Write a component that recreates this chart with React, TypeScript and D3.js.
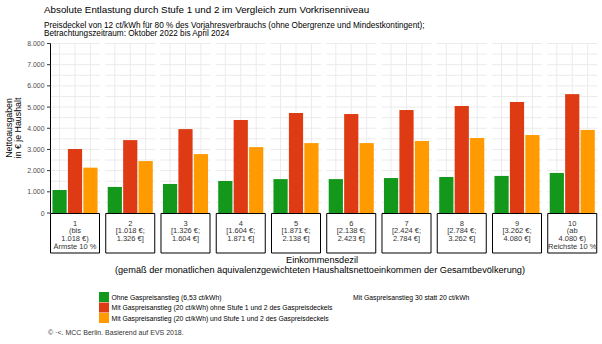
import React from "react";
import * as d3 from "d3";

const deciles = ["1", "2", "3", "4", "5", "6", "7", "8", "9", "10"];
const stripLabels: string[][] = [
  ["1", "(bis", "1.018 €)", "Ärmste 10 %"],
  ["2", "[1.018 €;", "1.326 €]"],
  ["3", "[1.326 €;", "1.604 €]"],
  ["4", "[1.604 €;", "1.871 €]"],
  ["5", "[1.871 €;", "2.138 €]"],
  ["6", "[2.138 €;", "2.423 €]"],
  ["7", "[2.424 €;", "2.784 €]"],
  ["8", "[2.784 €;", "3.262 €]"],
  ["9", "[3.262 €;", "4.080 €]"],
  ["10", "(ab", "4.080 €)", "Reichste 10 %"],
];
const seriesKeys = ["ohne", "mitOhne", "mitMit"];
const seriesNames = [
  "Ohne Gaspreisanstieg (6,53 ct/kWh)",
  "Mit Gaspreisanstieg (20 ct/kWh) ohne Stufe 1 und 2 des Gaspreisdeckels",
  "Mit Gaspreisanstieg (20 ct/kWh) und Stufe 1 und 2 des Gaspreisdeckels",
];
const seriesColors = ["#14981C", "#DE3A13", "#FF9B00"];
const ohneValues = [1085, 1230, 1370, 1510, 1600, 1600, 1650, 1700, 1750, 1890];
const mitOhneValues = [3020, 3440, 3960, 4390, 4720, 4670, 4860, 5050, 5240, 5610];
const mitMitValues = [2140, 2450, 2780, 3110, 3300, 3300, 3400, 3540, 3680, 3920];
const yTicks = [0, 1000, 2000, 3000, 4000, 5000, 6000, 7000, 8000];
const yGrid = d3.range(0, 8001, 500);
const extraLegend = "Mit Gaspreisanstieg 30 statt 20 ct/kWh";

const FONT = "'Liberation Sans', Arial, sans-serif";

export default function App() {
  const W = 602, H = 344;
  const y0 = 213, yTop = 43.5, stripBottom = 253;
  const y = d3.scaleLinear().domain([0, 8000]).range([y0, yTop]);
  const px = d3.scaleBand<string>().domain(deciles).range([50, 597.25]).paddingInner(0.095).paddingOuter(0);
  const bx = d3.scaleBand<string>().domain(seriesKeys).range([0, px.bandwidth()]).paddingInner(0.08).paddingOuter(0.16);
  const allValues = [ohneValues, mitOhneValues, mitMitValues];
  const fmt = (v: number) => d3.format(",")(v).replace(/,/g, ".");
  const pw = px.bandwidth();

  return (
    <svg width={W} height={H} style={{ position: "absolute", left: 0, top: 0, background: "#fff" }} fontFamily={FONT}>
      <text x={44} y={12.5} fontSize={9.8} fill="#000">Absolute Entlastung durch Stufe 1 und 2 im Vergleich zum Vorkrisenniveau</text>
      <text x={44} y={27.5} fontSize={8.2} fill="#000">Preisdeckel von 12 ct/kWh für 80 % des Vorjahresverbrauchs (ohne Obergrenze und Mindestkontingent);</text>
      <text x={44} y={36} fontSize={8.2} fill="#000">Betrachtungszeitraum: Oktober 2022 bis April 2024</text>

      {deciles.map((d, i) => {
        const x0 = px(d)!;
        return (
          <g key={d} transform={`translate(${x0},0)`}>
            {yGrid.map((t) => (
              <line key={t} x1={0} x2={pw} y1={y(t)} y2={y(t)} stroke="#EBEBEB" strokeWidth={1} />
            ))}
            {seriesKeys.map((k) => (
              <line key={k} x1={bx(k)! + bx.bandwidth() / 2} x2={bx(k)! + bx.bandwidth() / 2} y1={yTop} y2={y0} stroke="#EBEBEB" strokeWidth={1} />
            ))}
            {seriesKeys.map((k, si) => (
              <rect key={k} x={bx(k)!} width={bx.bandwidth()} y={y(allValues[si][i])} height={y0 - y(allValues[si][i])} fill={seriesColors[si]} />
            ))}
            <path d={`M0.5,${y0 + 0.5} V${stripBottom} H${pw - 0.5} V${y0 + 0.5} Z`} fill="none" stroke="#000" strokeWidth={1} />
            {stripLabels[i].map((s, li) => (
              <text key={li} x={pw / 2} y={225.5 + li * 7.8} fontSize={7.5} textAnchor="middle" fill="#333">{s}</text>
            ))}
          </g>
        );
      })}

      <line x1={50.5} x2={50.5} y1={yTop} y2={y0 + 0.5} stroke="#000" strokeWidth={1} />
      {yTicks.map((t) => (
        <g key={t}>
          <line x1={47} x2={50.5} y1={y(t)} y2={y(t)} stroke="#333" strokeWidth={1} />
          <text x={44.5} y={y(t) + 2.5} fontSize={6.9} textAnchor="end" fill="#4D4D4D">{fmt(t)}</text>
        </g>
      ))}

      <g transform={`translate(13,128) rotate(-90)`}>
        <text x={0} y={-1} fontSize={8.8} textAnchor="middle" fill="#000">Nettoausgaben</text>
        <text x={0} y={8} fontSize={8.8} textAnchor="middle" fill="#000">in € je Haushalt</text>
      </g>

      <text x={322} y={263} fontSize={9.2} textAnchor="middle" fill="#000">Einkommensdezil</text>
      <text x={320} y={273} fontSize={9.2} textAnchor="middle" fill="#000">(gemäß der monatlichen äquivalenzgewichteten Haushaltsnettoeinkommen der Gesamtbevölkerung)</text>

      {seriesNames.map((n, i) => (
        <g key={n}>
          <rect x={99} y={292 + i * 10.5} width={10} height={10} fill={seriesColors[i]} />
          <text x={111.5} y={299.5 + i * 10.5} fontSize={6.8} fill="#000">{n}</text>
        </g>
      ))}
      <text x={353} y={299.5} fontSize={6.8} fill="#000">{extraLegend}</text>

      <text x={48} y={335} fontSize={7} fill="#333">© ·&lt;. MCC Berlin. Basierend auf EVS 2018.</text>
    </svg>
  );
}
